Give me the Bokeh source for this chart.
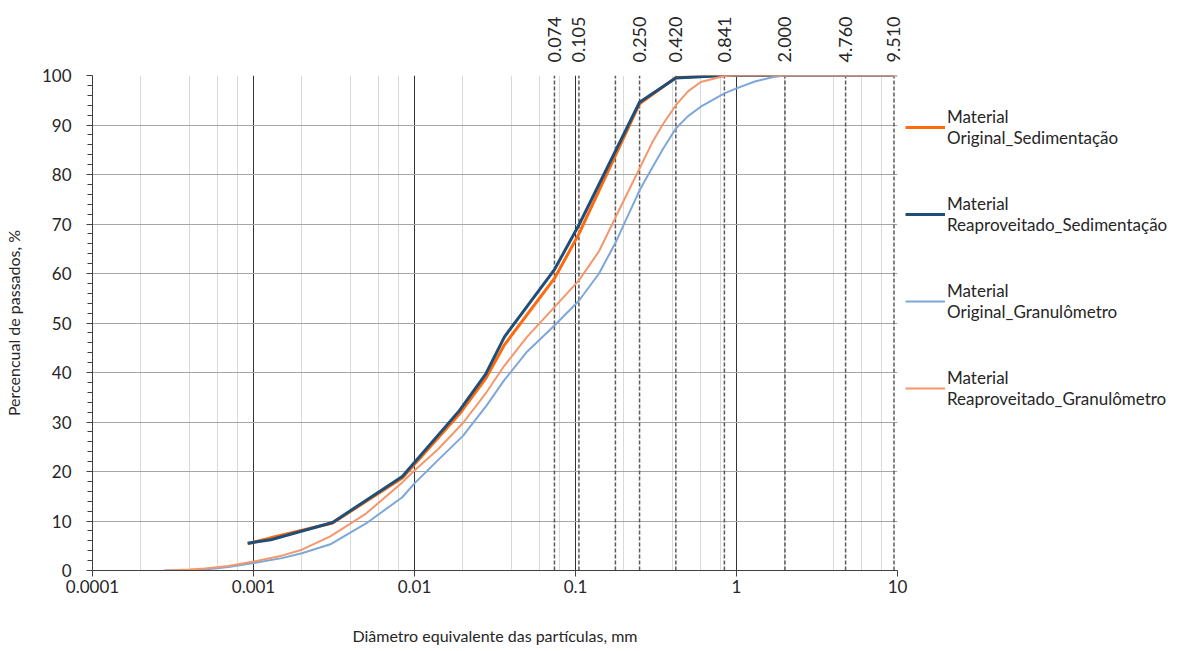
from bokeh.plotting import figure
from bokeh.models import (Legend, LegendItem, ColumnDataSource, PrintfTickFormatter,
                          SingleIntervalTicker, LogTicker, FixedTicker, LogAxis, Range1d)
from bokeh.embed import file_html
from bokeh.resources import INLINE
import math

# ---------------- data ----------------
# sedimentation test (diameter mm, % passing)
d_sed = [0.00092, 0.00128, 0.0031, 0.0084, 0.019, 0.0276, 0.0362, 0.074, 0.105, 0.25, 0.42, 0.841, 2.0, 4.76, 9.51]
orig_sed = [5.4, 6.6, 9.6, 18.7, 31.6, 38.7, 45.6, 59.0, 68.0, 94.3, 99.6, 100, 100, 100, 100]
reap_sed = [5.5, 6.2, 9.7, 19.0, 32.3, 39.6, 47.2, 60.8, 69.8, 94.6, 99.5, 100, 100, 100, 100]

# laser granulometer (diameter mm, % passing)
d_gran = [0.00028, 0.0004, 0.0005, 0.0007, 0.001, 0.0015, 0.002, 0.003, 0.005, 0.0084, 0.01, 0.014,
          0.02, 0.028, 0.036, 0.05, 0.074, 0.105, 0.14, 0.177, 0.25, 0.3, 0.35, 0.42, 0.5, 0.6,
          0.841, 1.0, 1.3, 1.7, 2.0, 4.76, 10.0]
orig_gran = [0.0, 0.0, 0.2, 0.7, 1.5, 2.5, 3.5, 5.3, 9.5, 14.8, 17.6, 22.3,
             27.2, 33.3, 38.4, 44.2, 49.5, 54.5, 60.0, 66.2, 76.8, 81.4, 85.2, 89.3, 91.8, 93.7,
             96.4, 97.4, 98.8, 99.7, 100, 100, 100]
reap_gran = [0.0, 0.2, 0.4, 0.9, 1.8, 3.0, 4.2, 6.9, 11.5, 17.8, 20.2, 24.5,
             29.8, 36.0, 41.3, 47.2, 53.2, 58.6, 64.5, 71.3, 81.2, 86.5, 90.2, 94.0, 96.8, 98.7,
             99.9, 100, 100, 100, 100, 100, 100]

# sieve openings (mm) marked by dashed lines; labelled ones shown on top
sieves = [0.074, 0.105, 0.177, 0.250, 0.420, 0.841, 2.000, 4.760, 9.510]
sieves_labelled = [0.074, 0.105, 0.250, 0.420, 0.841, 2.000, 4.760, 9.510]

series_names = ["Material\nOriginal_Sedimentação", "Material\nReaproveitado_Sedimentação",
                "Material\nOriginal_Granulômetro", "Material\nReaproveitado_Granulômetro"]

FONT = "Lato"
TXT = "#262626"
FS = "17px"

p = figure(frame_width=805, frame_height=495, x_axis_type="log",
           x_range=Range1d(1e-4, 10), y_range=Range1d(0, 100),
           output_backend="svg", toolbar_location=None,
           min_border_left=82, min_border_right=0, min_border_top=75, min_border_bottom=0)
p.outline_line_color = None

# grids
xt = LogTicker(desired_num_ticks=6)
p.xaxis.ticker = xt
p.xgrid.ticker = xt
p.xgrid.grid_line_color = "#333333"
p.xgrid.grid_line_width = 1
p.xgrid.minor_grid_line_color = "#D9D9D9"
p.xgrid.minor_grid_line_width = 1
yt = SingleIntervalTicker(interval=10, num_minor_ticks=5)
p.yaxis.ticker = yt
p.ygrid.ticker = yt
p.ygrid.grid_line_color = "#A6A6A6"

# axes
p.xaxis.formatter = PrintfTickFormatter(format="%g")
for ax in (p.xaxis[0], p.yaxis[0]):
    ax.axis_line_color = "#404040"
    ax.major_tick_line_color = "#404040"
    ax.major_tick_in = 0
    ax.major_tick_out = 6
    ax.major_label_text_font = FONT
    ax.major_label_text_font_size = FS
    ax.major_label_text_color = TXT
    ax.axis_label_text_font = FONT
    ax.axis_label_text_font_size = "16px"
    ax.axis_label_text_font_style = "normal"
    ax.axis_label_text_color = TXT
p.xaxis.minor_tick_line_color = None
p.yaxis.minor_tick_line_color = "#404040"
p.yaxis.minor_tick_in = 0
p.yaxis.minor_tick_out = 5
p.yaxis.major_label_standoff = 15
p.xaxis.major_label_standoff = 3
p.xaxis.axis_label = "Diâmetro equivalente das partículas, mm"
p.yaxis.axis_label = "Percencual de passados, %"
p.xaxis.axis_label_standoff = 30
p.yaxis.axis_label_standoff = 16

# top axis with sieve openings
top = LogAxis(ticker=FixedTicker(ticks=sieves_labelled), formatter=PrintfTickFormatter(format="%.3f"),
              major_label_orientation=math.pi / 2, axis_line_color=None, major_tick_line_color=None,
              minor_tick_line_color=None, major_tick_out=0, major_tick_in=0, major_label_standoff=13,
              major_label_text_font=FONT, major_label_text_font_size="18px", major_label_text_color=TXT)
p.add_layout(top, "above")

# sieve dashed lines
sv = ColumnDataSource(dict(x=sieves, y0=[0] * len(sieves), y1=[100] * len(sieves)))
p.segment(x0="x", y0="y0", x1="x", y1="y1", source=sv, line_color="#595959",
          line_width=1.5, line_dash="4 2")

# curves
r1 = p.line(d_sed, orig_sed, line_color="#FF6A0D", line_width=3)
r2 = p.line(d_sed, reap_sed, line_color="#1F4E79", line_width=3)
r3 = p.line(d_gran, orig_gran, line_color="#7DA7D9", line_width=2)
r4 = p.line(d_gran, reap_gran, line_color="#F4976C", line_width=2)

legend = Legend(items=[LegendItem(label=n, renderers=[r]) for n, r in zip(series_names, [r1, r2, r3, r4])],
                location=(8, 161), border_line_color=None, background_fill_alpha=0,
                label_text_font=FONT, label_text_font_size=FS, label_text_color=TXT,
                label_text_line_height=1.5,
                glyph_width=40, label_standoff=2, spacing=45, padding=0, margin=0)
p.add_layout(legend, "right")

open("out.html", "w").write(file_html(p, INLINE))
